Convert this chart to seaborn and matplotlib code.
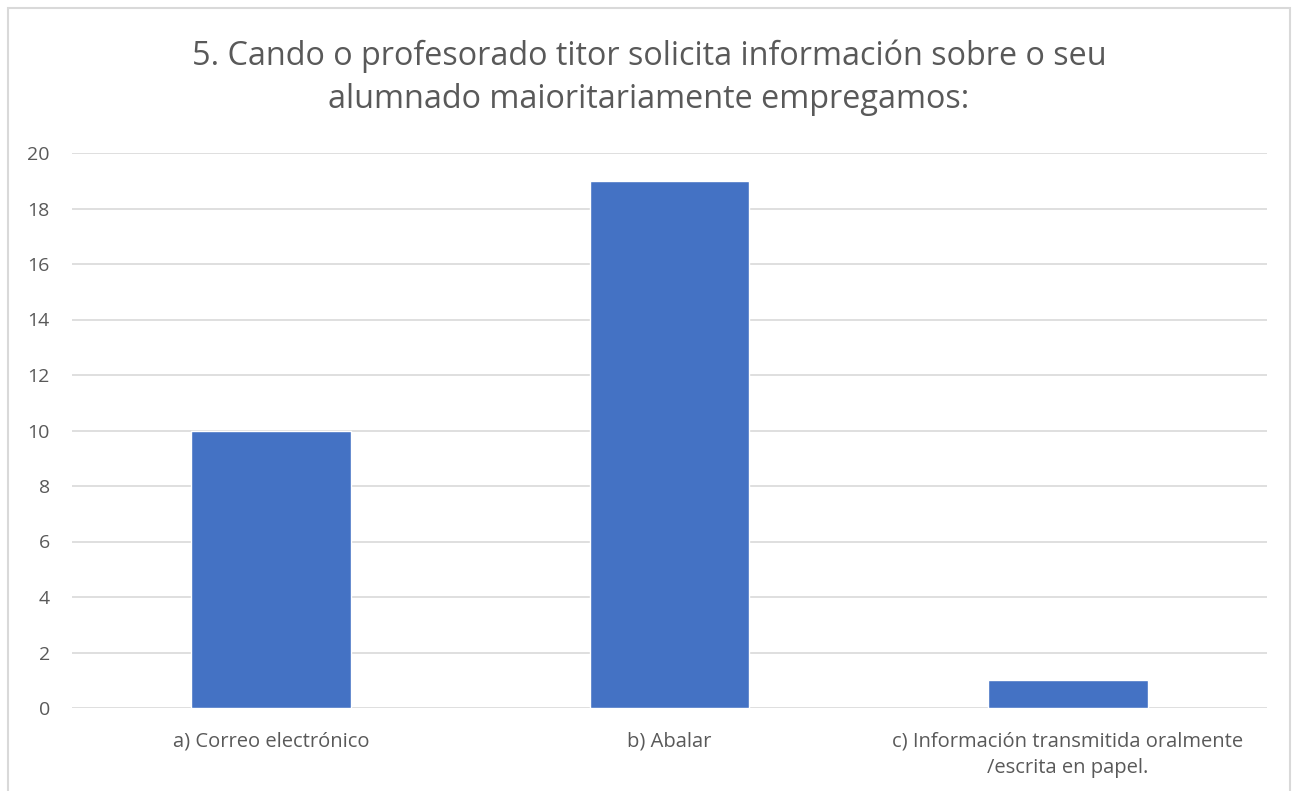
import matplotlib
matplotlib.use("Agg")
import matplotlib.pyplot as plt
import seaborn as sns
import pandas as pd
from matplotlib.patches import Rectangle

categories = ["a) Correo electrónico", "b) Abalar",
              "c) Información transmitida oralmente\n/escrita en papel."]
values = [10, 19, 1]
yticks = [0, 2, 4, 6, 8, 10, 12, 14, 16, 18, 20]
title = "5. Cando o profesorado titor solicita información sobre o seu\nalumnado maioritariamente empregamos:"

sns.set_theme(style="white")
plt.rcParams['font.family'] = ['Open Sans', 'DejaVu Sans']

df = pd.DataFrame({"cat": categories, "val": values})

fig = plt.figure(figsize=(12.98, 7.91), dpi=100)
ax = fig.add_axes([72/1298, 1-708/791, (1267-72)/1298, (708-153)/791])

sns.barplot(data=df, x="cat", y="val", color="#4472C4", width=0.4,
            saturation=1, ax=ax, zorder=3)

ax.set_ylim(0, 20)
ax.set_xlim(-0.5, 2.5)
ax.set_yticks(yticks)
ax.yaxis.grid(True, color="#d9d9d9", linewidth=1.2, zorder=0)
ax.set_axisbelow(True)
for s in ax.spines.values():
    s.set_visible(False)
ax.set_xlabel("")
ax.set_ylabel("")
ax.tick_params(axis="both", length=0, labelcolor="#595959")
ax.tick_params(axis="y", pad=16, labelsize=14)
ax.tick_params(axis="x", pad=17, labelsize=14.5)
for lbl in ax.get_xticklabels():
    lbl.set_linespacing(1.45)

fig.text(0.5, 1-78/791, title, ha="center", va="center", fontsize=23.3,
         color="#595959", linespacing=1.42)

fig.patches.append(Rectangle((8/1298, -0.1), (1290-8)/1298, 1.1-8/791,
                             transform=fig.transFigure, fill=False,
                             edgecolor="#d9d9d9", linewidth=1.5))

fig.savefig("out.png", dpi=100, facecolor="white")
